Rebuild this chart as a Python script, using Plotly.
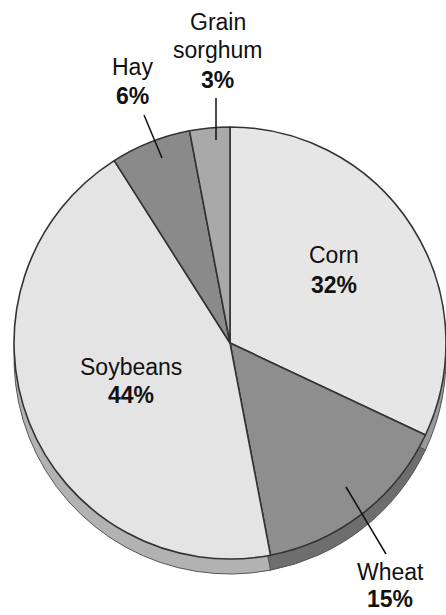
import plotly.graph_objects as go

W, H = 446, 615

categories = ["Corn", "Wheat", "Soybeans", "Hay", "Grain sorghum"]
values = [32, 15, 44, 6, 3]
slice_colors = ["#e6e6e6", "#8e8e8e", "#e4e4e4", "#8a8a8a", "#a9a9a9"]
shadow_colors = ["#9a9a9a", "#6e6e6e", "#b2b2b2", "#6a6a6a", "#7a7a7a"]

def px(x):
    return min(1.0, max(0.0, x / W))

def py(y):
    return min(1.0, max(0.0, 1 - y / H))

# pie geometry (pixels)
cx, cy, r = 230, 343, 216
shadow_dy = 15

def dom(dy=0):
    return dict(x=[px(cx - r), px(cx + r)], y=[py(cy + dy + r), py(cy + dy - r)])

fig = go.Figure()
# 3D-like rim underneath
fig.add_trace(go.Pie(
    labels=categories, values=values, sort=False,
    direction="clockwise", rotation=0,
    marker=dict(colors=shadow_colors, line=dict(color="#555555", width=1)),
    textinfo="none", hoverinfo="skip", showlegend=False,
    domain=dom(shadow_dy),
))
fig.add_trace(go.Pie(
    labels=categories, values=values, sort=False,
    direction="clockwise", rotation=0,
    marker=dict(colors=slice_colors, line=dict(color="#333333", width=1.6)),
    textinfo="none", hoverinfo="label+percent", showlegend=False,
    domain=dom(0),
))

shapes = []
leaders = [((346, 487), (386, 554)), ((144, 115), (162, 158)), ((216, 98), (216, 140))]
for (x0, y0), (x1, y1) in leaders:
    shapes.append(dict(type="line", xref="paper", yref="paper",
                       x0=px(x0), y0=py(y0), x1=px(x1), y1=py(y1),
                       line=dict(color="#111111", width=1.5)))

# label line centres (x, [y of each line])
label_pos = {
    "Corn": (334, [254.5, 285]),
    "Wheat": (390, [572, 599]),
    "Soybeans": (131, [366.5, 394.5]),
    "Hay": (132, [67.5, 95.5]),
    "Grain sorghum": (217.5, [22, 50, 80.5]),
}
FONT = "Liberation Sans, Arial, Helvetica, sans-serif"
annotations = []
for cat, val in zip(categories, values):
    x, ys = label_pos[cat]
    lines = cat.split(" ") + [f"<b>{val}%</b>"]
    for txt, y in zip(lines, ys):
        annotations.append(dict(
            x=px(x), y=py(y), xref="paper", yref="paper",
            xanchor="center", yanchor="middle", showarrow=False,
            text=txt,
            font=dict(family=FONT, size=23, color="#111111"),
        ))

fig.update_layout(
    width=W, height=H,
    margin=dict(l=0, r=0, t=0, b=0),
    paper_bgcolor="white",
    plot_bgcolor="white",
    shapes=shapes,
    annotations=annotations,
)

fig.write_html("out.html", config={"displayModeBar": False},
               post_script="document.body.style.margin='0';")
